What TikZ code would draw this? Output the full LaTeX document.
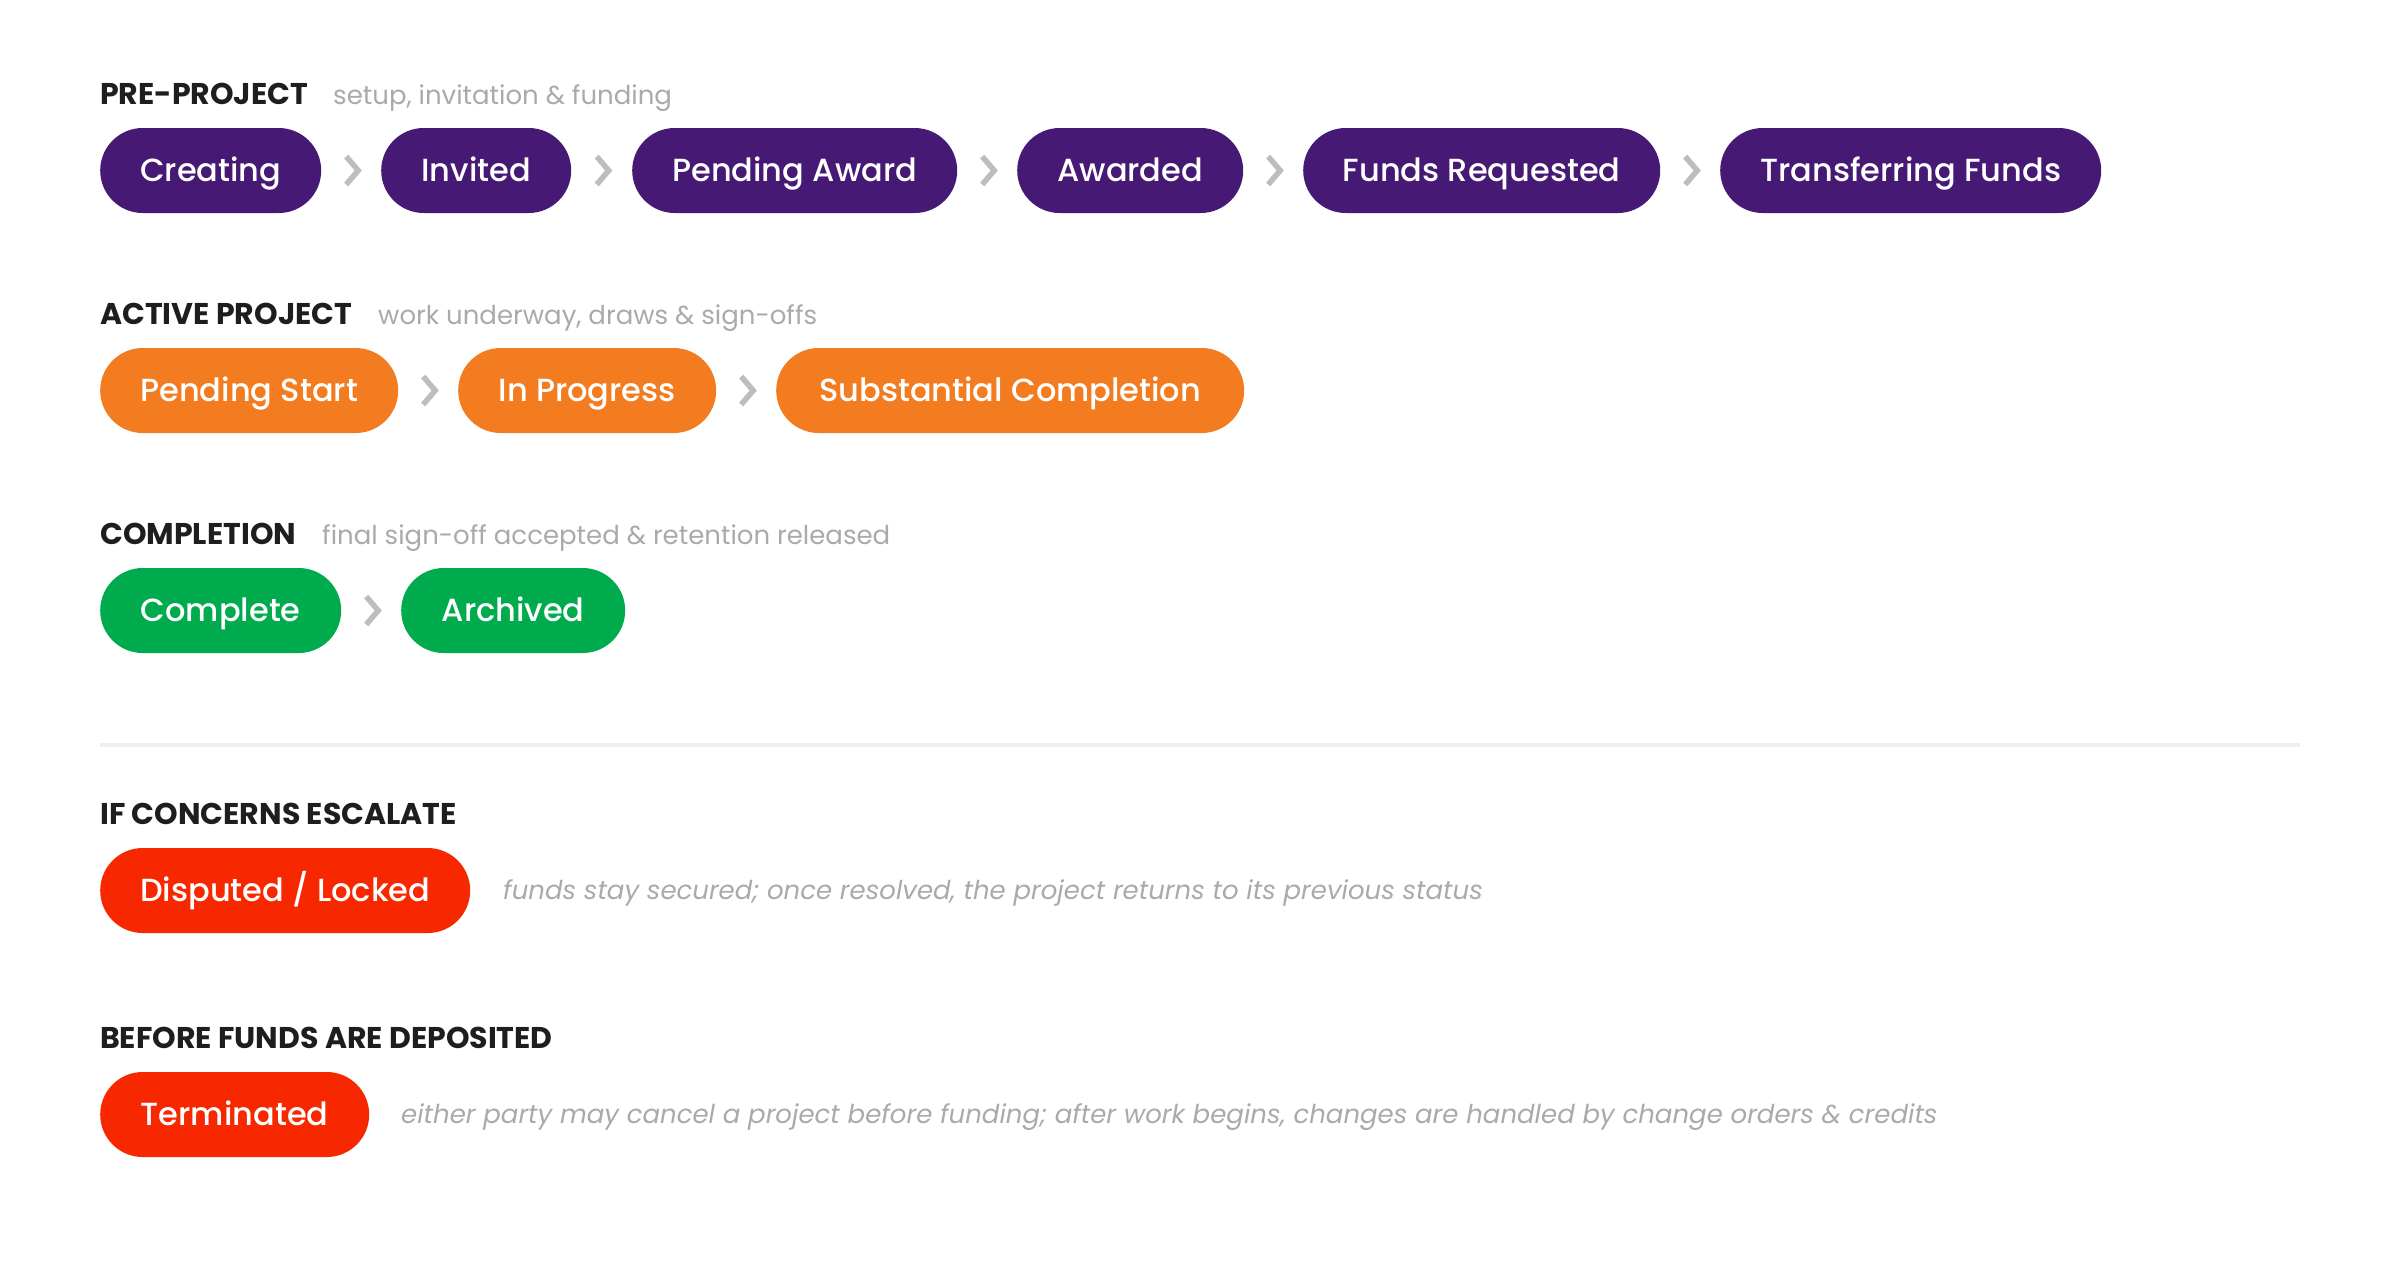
\documentclass[tikz,border=0pt]{standalone}
\usepackage{fontspec}
\setmainfont{Poppins}
\newfontfamily\pmed{Poppins Medium}
\usetikzlibrary{calc}
\definecolor{purp}{RGB}{70,26,116}
\definecolor{orng}{RGB}{242,124,31}
\definecolor{grn}{RGB}{0,171,78}
\definecolor{redc}{RGB}{247,40,0}
\definecolor{chevc}{RGB}{189,189,189}
\definecolor{subc}{RGB}{170,170,170}
\definecolor{hdrc}{RGB}{30,30,30}
\definecolor{sepc}{RGB}{238,240,240}
\tikzset{
  pill/.style={rectangle, rounded corners=42.5bp, minimum height=85bp, inner xsep=12bp, inner ysep=0pt,
    text height=22.4bp, text depth=0bp, text=white, font=\pmed\fontsize{32bp}{38bp}\selectfont, anchor=west},
  hdr/.style={inner sep=0pt, anchor=base west, text=hdrc, font=\bfseries\fontsize{30bp}{36bp}\selectfont},
  subt/.style={inner sep=0pt, anchor=base west, text=subc, font=\fontsize{26bp}{31bp}\selectfont},
  note/.style={inner sep=0pt, anchor=base west, text=subc, font=\itshape\fontsize{26bp}{31bp}\selectfont},
  chev/.style={draw=chevc, line width=5.5bp, line join=miter}
}
\newcommand\chevbetween[2]{\draw[chev] ($(#1.east)!0.5!(#2.west)$) ++(-5,-14) -- ++(12,14) -- ++(-12,14);}
\begin{document}
\begin{tikzpicture}[x=1bp,y=-1bp]
\fill[white] (0,0) rectangle (2400,1280);
\useasboundingbox (0,0) rectangle (2400,1280);

% PRE-PROJECT
\node[hdr] (h1) at (100,104) {PRE-PROJECT};
\node[subt] (s1) at (333,104) {setup, invitation \& funding};
\node[pill, fill=purp, minimum width=221bp] (creating) at (100,170.5) {Creating};
\node[pill, fill=purp, minimum width=190bp] (invited) at (381,170.5) {Invited};
\node[pill, fill=purp, minimum width=325bp] (pendaward) at (632,170.5) {Pending Award};
\node[pill, fill=purp, minimum width=226bp] (awarded) at (1017,170.5) {Awarded};
\node[pill, fill=purp, minimum width=357bp] (fundsreq) at (1303,170.5) {Funds Requested};
\node[pill, fill=purp, minimum width=381bp] (transfer) at (1720,170.5) {Transferring Funds};
\chevbetween{creating}{invited}
\chevbetween{invited}{pendaward}
\chevbetween{pendaward}{awarded}
\chevbetween{awarded}{fundsreq}
\chevbetween{fundsreq}{transfer}

% ACTIVE PROJECT
\node[hdr] (h2) at (100,324) {ACTIVE PROJECT};
\node[subt] (s2) at (378,324) {work underway, draws \& sign-offs};
\node[pill, fill=orng, minimum width=298bp] (pendstart) at (100,390.5) {Pending Start};
\node[pill, fill=orng, minimum width=258bp] (inprog) at (458,390.5) {In Progress};
\node[pill, fill=orng, minimum width=468bp] (subst) at (776,390.5) {Substantial Completion};
\chevbetween{pendstart}{inprog}
\chevbetween{inprog}{subst}

% COMPLETION
\node[hdr] (h3) at (100,544) {COMPLETION};
\node[subt] (s3) at (322,544) {final sign-off accepted \& retention released};
\node[pill, fill=grn, minimum width=241bp] (complete) at (100,610.5) {Complete};
\node[pill, fill=grn, minimum width=224bp] (archived) at (401,610.5) {Archived};
\chevbetween{complete}{archived}

% separator
\draw[sepc, line width=4bp] (100,745) -- (2300,745);

% IF CONCERNS ESCALATE
\node[hdr] (h4) at (100,824) {IF CONCERNS ESCALATE};
\node[pill, fill=redc, minimum width=370bp] (disputed) at (100,890.5) {Disputed / Locked};
\node[note] (n4) at (503,899) {funds stay secured; once resolved, the project returns to its previous status};

% BEFORE FUNDS ARE DEPOSITED
\node[hdr] (h5) at (100,1048) {BEFORE FUNDS ARE DEPOSITED};
\node[pill, fill=redc, minimum width=269bp] (terminated) at (100,1114.5) {Terminated};
\node[note] (n5) at (401,1123) {either party may cancel a project before funding; after work begins, changes are handled by change orders \& credits};
\end{tikzpicture}
\end{document}
